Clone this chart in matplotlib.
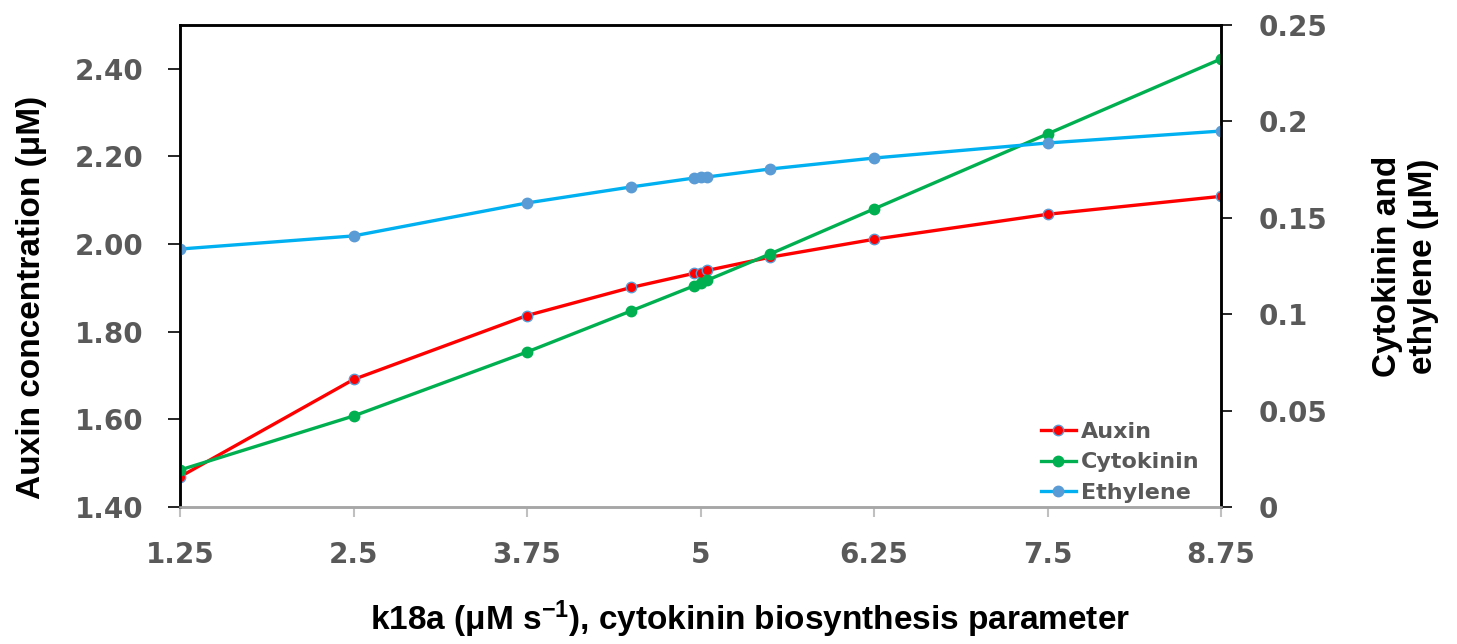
import numpy as np
import matplotlib.pyplot as plt
from matplotlib.lines import Line2D

plt.rcParams["mathtext.fontset"] = "custom"
plt.rcParams["mathtext.bf"] = "Liberation Sans:bold"
plt.rcParams["mathtext.rm"] = "Liberation Sans:bold"
plt.rcParams["mathtext.it"] = "Liberation Sans:bold"

# k18a values
k18a = [1.25, 2.5, 3.75, 4.5, 4.95, 5.0, 5.05, 5.5, 6.25, 7.5, 8.75]
auxin = [1.469, 1.691, 1.837, 1.901, 1.933, 1.935, 1.940, 1.970, 2.011, 2.068, 2.109]
cytokinin = [0.0192, 0.0472, 0.0804, 0.1017, 0.1146, 0.1162, 0.1177, 0.1312, 0.1546, 0.1935, 0.2324]
ethylene = [0.1338, 0.1406, 0.1577, 0.1660, 0.1706, 0.1710, 0.1712, 0.1753, 0.1810, 0.1888, 0.1950]

xticks = [1.25, 2.5, 3.75, 5, 6.25, 7.5, 8.75]
xticklabels = ["1.25", "2.5", "3.75", "5", "6.25", "7.5", "8.75"]
yticks_left = [1.40, 1.60, 1.80, 2.00, 2.20, 2.40]
yticks_right = [0, 0.05, 0.1, 0.15, 0.2, 0.25]
yticklabels_right = ["0", "0.05", "0.1", "0.15", "0.2", "0.25"]

grey = "#595959"
red = "#FF0000"
green = "#00B050"
cyan = "#00B0F0"
mblue = "#5B9BD5"

fig = plt.figure(figsize=(14.57, 6.44), dpi=100)
ax = fig.add_axes([180/1457, 1-507/644, (1221-180)/1457, (507-25)/644])
ax2 = ax.twinx()

ax.plot(k18a, auxin, color=red, lw=2.4, marker="o", ms=7.5,
        mfc=red, mec=mblue, mew=1)
ax2.plot(k18a, cytokinin, color=green, lw=2.4, marker="o", ms=7.5,
         mfc=green, mec=green)
ax2.plot(k18a, ethylene, color=cyan, lw=2.4, marker="o", ms=7.5,
         mfc=mblue, mec=mblue)

ax.set_xlim(1.25, 8.75)
ax.set_ylim(1.4, 2.5)
ax2.set_ylim(0, 0.25)

ax.set_xticks(xticks)
ax.set_xticklabels(xticklabels)
ax.set_yticks(yticks_left)
ax.set_yticklabels(["%.2f" % v for v in yticks_left])
ax2.set_yticks(yticks_right)
ax2.set_yticklabels(yticklabels_right)

tickfont = dict(family="DejaVu Sans", weight="bold", size=20)
for lab in ax.get_xticklabels() + ax.get_yticklabels() + ax2.get_yticklabels():
    lab.set_fontproperties(tickfont)
    lab.set_color(grey)

ax.tick_params(axis="y", direction="out", length=8.6, width=1.2, color="black", pad=18)
ax2.tick_params(axis="y", direction="out", length=8, width=1.2, color="black", pad=19)
ax.tick_params(axis="x", direction="out", length=7.2, width=1.5, color="#C0C0C0", pad=17)

for a in (ax, ax2):
    for s in ("left", "right", "top"):
        a.spines[s].set_color("black")
        a.spines[s].set_linewidth(1.8)
    a.spines["bottom"].set_color("#A6A6A6")
    a.spines["bottom"].set_linewidth(1.8)

labfont = dict(family="Liberation Sans", weight="bold", size=24, color="black")
ax.set_xlabel(r"k18a ($\mathbf{\mu}$M s$^{\mathbf{-1}}$), cytokinin biosynthesis parameter", **labfont)
ax.xaxis.set_label_coords(0.548, -0.19)
ax.set_ylabel("Auxin concentration (μM)", **labfont)
ax.yaxis.set_label_coords(-0.128, 0.434)
ax2.set_ylabel("Cytokinin and\nethylene (μM)", multialignment="center", **labfont)
ax2.yaxis.set_label_coords(1.145, 0.5)

handles = [
    Line2D([], [], color=red, lw=2.4, marker="o", ms=7.5, mfc=red, mec=mblue),
    Line2D([], [], color=green, lw=2.4, marker="o", ms=7.5, mfc=green, mec=green),
    Line2D([], [], color=cyan, lw=2.4, marker="o", ms=7.5, mfc=mblue, mec=mblue),
]
leg = ax2.legend(handles, ["Auxin", "Cytokinin", "Ethylene"], loc="upper left",
                 bbox_to_anchor=(0.816, 0.2), frameon=False, borderpad=0,
                 handlelength=1.6, handletextpad=0.2, labelspacing=0.48,
                 prop=dict(family="DejaVu Sans", weight="bold", size=16))
for t in leg.get_texts():
    t.set_color(grey)

fig.savefig("out.png", dpi=100)
